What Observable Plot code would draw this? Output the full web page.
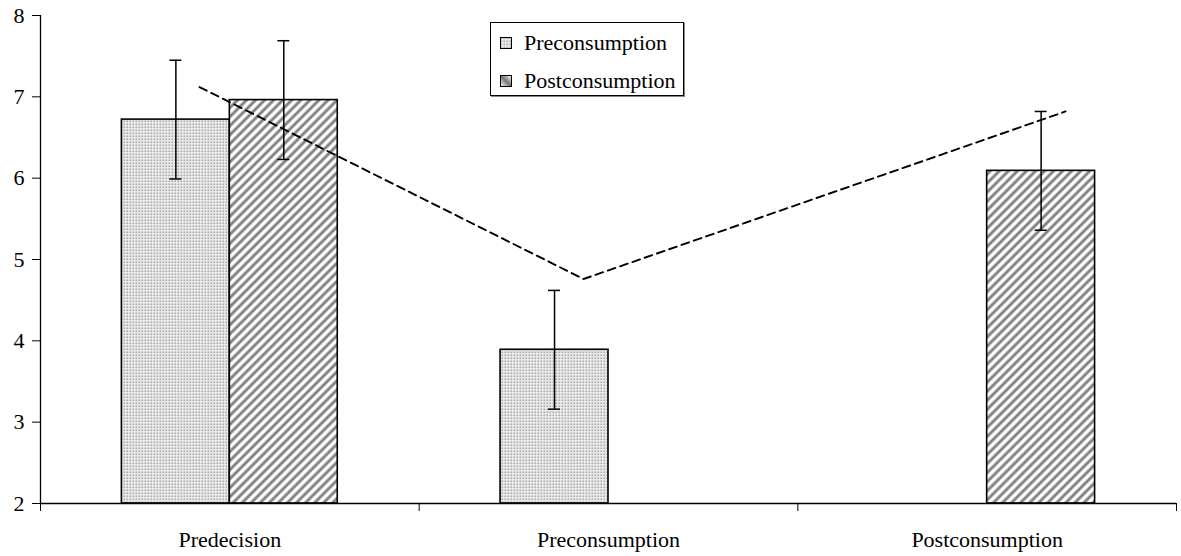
<!DOCTYPE html>
<html>
<head>
<meta charset="utf-8">
<script src="https://cdn.jsdelivr.net/npm/d3@7"></script>
<script src="https://cdn.jsdelivr.net/npm/@observablehq/plot@0.6"></script>
<style>
  body { margin: 0; background: #fff; }
  #wrap { position: relative; width: 1181px; height: 556px; font-family: "Liberation Serif", "Times New Roman", serif; }
  #wrap svg text { font-family: "Liberation Serif", "Times New Roman", serif; }
  #legend { position: absolute; left: 490px; top: 22px; width: 192px; height: 72px; border: 1px solid #000; background: #fff; box-shadow: 1px 1px 0 #888; font-size: 22px; font-family: "Liberation Serif", "Times New Roman", serif; }
  .item { position: absolute; left: 9px; height: 24px; display: flex; align-items: center; }
  .item svg { margin-right: 12px; }
</style>
</head>
<body>
<div id="wrap"></div>
<script>
const categories = ["Predecision", "Preconsumption", "Postconsumption"];
const seriesNames = ["Preconsumption", "Postconsumption"];
const preMeans = [6.72, 3.89, null];
const preErrors = [0.73, 0.73, null];
const postMeans = [6.96, null, 6.09];
const postErrors = [0.73, null, 0.73];
// dashed reference line: position along the category axis (category units) and value
const lineCategoryPos = [0.42, 1.434, 2.707];
const lineValues = [7.12, 4.76, 6.82];
const yTicks = [2, 3, 4, 5, 6, 7, 8];

const W = 1181, H = 556, mL = 40, mR = 5;
const barWidth = 0.285;
const pxPerUnit = (W - mL - mR) / categories.length;
const capHalf = 6 / pxPerUnit;

const bars = [];
categories.forEach((c, i) => {
  if (preMeans[i] != null) bars.push({series: seriesNames[0], x1: i + 0.5 - barWidth, x2: i + 0.5, mean: preMeans[i], err: preErrors[i]});
  if (postMeans[i] != null) bars.push({series: seriesNames[1], x1: i + 0.5, x2: i + 0.5 + barWidth, mean: postMeans[i], err: postErrors[i]});
});
bars.forEach(d => { d.xc = (d.x1 + d.x2) / 2; });
const lineData = lineCategoryPos.map((x, i) => ({x, y: lineValues[i]}));
const fillOf = {Preconsumption: "url(#dotsPat)", Postconsumption: "url(#stripePat)"};

const plot = Plot.plot({
  width: W, height: H,
  marginLeft: mL, marginRight: mR, marginTop: 15, marginBottom: 53,
  style: {fontFamily: "'Liberation Serif', 'Times New Roman', serif", fontSize: "22px", color: "#000", background: "#fff"},
  x: {domain: [0, categories.length], axis: null},
  y: {domain: [2, 8], axis: null},
  marks: [
    Plot.rect(bars.filter(d => d.series === seriesNames[0]), {x1: "x1", x2: "x2", y1: 2, y2: "mean", fill: fillOf.Preconsumption, stroke: "#000", strokeWidth: 1.6}),
    Plot.rect(bars.filter(d => d.series === seriesNames[1]), {x1: "x1", x2: "x2", y1: 2, y2: "mean", fill: fillOf.Postconsumption, stroke: "#000", strokeWidth: 1.6}),
    Plot.ruleX(bars, {x: "xc", y1: d => d.mean - d.err, y2: d => d.mean + d.err, stroke: "#000", strokeWidth: 1.5}),
    Plot.ruleY(bars, {y: d => d.mean + d.err, x1: d => d.xc - capHalf, x2: d => d.xc + capHalf, stroke: "#000", strokeWidth: 1.5}),
    Plot.ruleY(bars, {y: d => d.mean - d.err, x1: d => d.xc - capHalf, x2: d => d.xc + capHalf, stroke: "#000", strokeWidth: 1.5}),
    Plot.line(lineData, {x: "x", y: "y", stroke: "#000", strokeWidth: 1.9, strokeDasharray: "8,5"}),
    Plot.ruleY([2], {stroke: "#000", strokeWidth: 1.3}),
    Plot.ruleX([0], {stroke: "#000", strokeWidth: 1.3}),
    Plot.axisY({ticks: yTicks, tickSize: 8, tickPadding: 8, tickFormat: d => String(d), fontSize: 22}),
    Plot.axisX({ticks: d3.range(categories.length + 1), tickSize: 8, tickFormat: () => ""}),
    Plot.axisX({ticks: categories.map((c, i) => i + 0.5), tickSize: 0, tickPadding: 28, tickFormat: v => categories[Math.floor(v)], fontSize: 22})
  ]
});

// patterns
const svg = d3.select(plot);
const defs = svg.insert("defs", ":first-child");
const dots = defs.append("pattern").attr("id", "dotsPat").attr("patternUnits", "userSpaceOnUse").attr("width", 3).attr("height", 3);
dots.append("rect").attr("width", 3).attr("height", 3).attr("fill", "#ececec");
dots.append("rect").attr("x", 0.5).attr("y", 0.5).attr("width", 1.6).attr("height", 1.6).attr("fill", "#a8a8a8");
const stripes = defs.append("pattern").attr("id", "stripePat").attr("patternUnits", "userSpaceOnUse").attr("width", 6.4).attr("height", 6.4).attr("patternTransform", "rotate(45)");
stripes.append("rect").attr("width", 6.4).attr("height", 6.4).attr("fill", "#fff");
stripes.append("rect").attr("x", 0.2).attr("y", 0).attr("width", 3.4).attr("height", 6.4).attr("fill", "#b0b0b0");
stripes.append("rect").attr("x", 0.9).attr("y", 0).attr("width", 2).attr("height", 6.4).attr("fill", "#808080");

const wrap = document.getElementById("wrap");
wrap.appendChild(plot);

// legend
const legend = document.createElement("div");
legend.id = "legend";
const swatchDefs = `<defs>
<pattern id="lgDots" patternUnits="userSpaceOnUse" width="3" height="3"><rect width="3" height="3" fill="#ececec"/><rect x="0.5" y="0.5" width="1.6" height="1.6" fill="#a8a8a8"/></pattern>
<linearGradient id="lgStripe" x1="0" y1="1" x2="1" y2="0"><stop offset="0" stop-color="#fff"/><stop offset="0.5" stop-color="#777"/><stop offset="1" stop-color="#fff"/></linearGradient>
</defs>`;
const swFill = ["url(#lgDots)", "url(#lgStripe)"];
seriesNames.forEach((s, i) => {
  const item = document.createElement("div");
  item.className = "item";
  item.style.top = (i === 0 ? 8 : 46) + "px";
  item.innerHTML = `<svg width="12" height="12">${i === 0 ? swatchDefs : ""}<rect x="0.5" y="0.5" width="11" height="11" fill="${swFill[i]}" stroke="#000"/></svg><span>${s}</span>`;
  legend.appendChild(item);
});
wrap.appendChild(legend);
</script>
</body>
</html>
